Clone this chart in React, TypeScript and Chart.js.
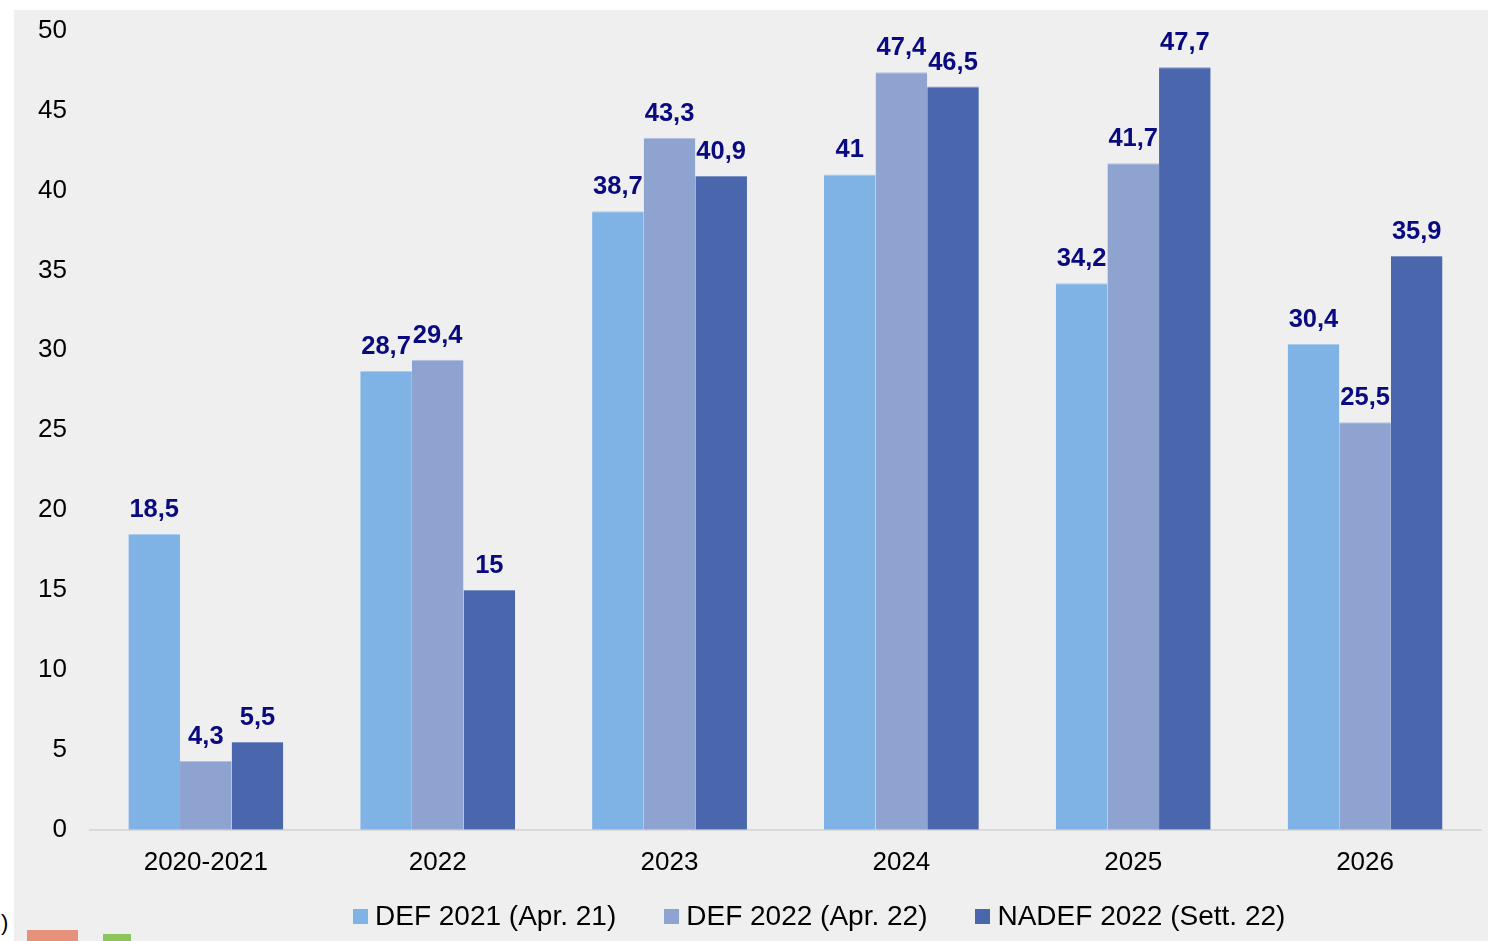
import React, { useEffect, useRef } from "react";
import { Chart, registerables } from "chart.js";

Chart.register(...registerables);

const categories = ["2020-2021", "2022", "2023", "2024", "2025", "2026"];
const def2021 = [18.5, 28.7, 38.7, 41, 34.2, 30.4];
const def2022 = [4.3, 29.4, 43.3, 47.4, 41.7, 25.5];
const nadef2022 = [5.5, 15, 40.9, 46.5, 47.7, 35.9];
const seriesNames = ["DEF 2021 (Apr. 21)", "DEF 2022 (Apr. 22)", "NADEF 2022 (Sett. 22)"];
const seriesColors = ["#7FB2E5", "#8FA3D1", "#4A67AE"];
const seriesTopColors = ["#A9CBEE", "#B3C0E0", "#7F93C6"];

const FONT = "'Liberation Sans', Arial, sans-serif";

const valueLabels = {
  id: "valueLabels",
  afterDatasetsDraw(chart: any) {
    const ctx = chart.ctx;
    ctx.save();
    ctx.font = `bold 25.5px ${FONT}`;
    ctx.fillStyle = "#0A0A80";
    ctx.textAlign = "center";
    ctx.textBaseline = "alphabetic";
    chart.data.datasets.forEach((ds: any, i: number) => {
      const meta = chart.getDatasetMeta(i);
      meta.data.forEach((bar: any, j: number) => {
        const v = ds.data[j];
        const txt = String(v).replace(".", ",");
        ctx.fillText(txt, bar.x, bar.y - 17);
      });
    });
    ctx.restore();
  },
};

export default function App() {
  const ref = useRef<HTMLCanvasElement>(null);
  useEffect(() => {
    if (!ref.current) return;
    const data = [def2021, def2022, nadef2022];
    const chart = new Chart(ref.current, {
      type: "bar",
      data: {
        labels: categories,
        datasets: data.map((d, i) => ({
          label: seriesNames[i],
          data: d,
          backgroundColor: seriesColors[i],
          borderColor: seriesTopColors[i],
          borderWidth: { top: 1, left: 0, right: 0, bottom: 0 },
          borderSkipped: "bottom",
          categoryPercentage: 0.668,
          barPercentage: 1,
        })),
      },
      options: {
        animation: false,
        responsive: false,
        maintainAspectRatio: false,
        layout: { padding: { top: 3, left: 1, right: 7, bottom: 46 } },
        plugins: {
          tooltip: { enabled: false },
          legend: { display: false },
        },
        scales: {
          x: {
            grid: { display: false, drawTicks: false },
            border: { color: "#D9D9D9", width: 2 },
            ticks: { color: "#000", font: { family: FONT, size: 26 }, padding: 17 },
          },
          y: {
            min: 0,
            max: 50,
            grid: { display: false, drawTicks: false },
            border: { display: false },
            ticks: {
              stepSize: 5,
              color: "#000",
              font: { family: FONT, size: 26 },
              padding: 23,
            },
          },
        },
      },
      plugins: [valueLabels],
    });
    return () => chart.destroy();
  }, []);

  return (
    <div style={{ position: "absolute", left: 0, top: 0, width: 1488, height: 941, overflow: "hidden", background: "#fff" }}>
      <div style={{ position: "absolute", left: 14, top: 10, width: 1474, height: 931, background: "#EFEFEF" }} />
      <canvas ref={ref} width={1474} height={949} style={{ position: "absolute", left: 14, top: -8, display: "block" }} />
      <div
        style={{
          position: "absolute",
          left: 353,
          top: 899,
          display: "flex",
          gap: 48,
          alignItems: "center",
          fontFamily: FONT,
          fontSize: 28,
          lineHeight: "34px",
          color: "#000",
          whiteSpace: "nowrap",
        }}
      >
        {seriesNames.map((n, i) => (
          <div key={n} style={{ display: "flex", alignItems: "center", gap: 7 }}>
            <span style={{ display: "inline-block", width: 15, height: 15, background: seriesColors[i] }} />
            <span>{n}</span>
          </div>
        ))}
      </div>
      <div style={{ position: "absolute", left: 1, top: 910, fontFamily: FONT, fontSize: 22, color: "#000" }}>)</div>
      <div style={{ position: "absolute", left: 27, top: 930, width: 51, height: 11, background: "#E6917A" }} />
      <div style={{ position: "absolute", left: 103, top: 934, width: 28, height: 7, background: "#8CC65A" }} />
    </div>
  );
}
